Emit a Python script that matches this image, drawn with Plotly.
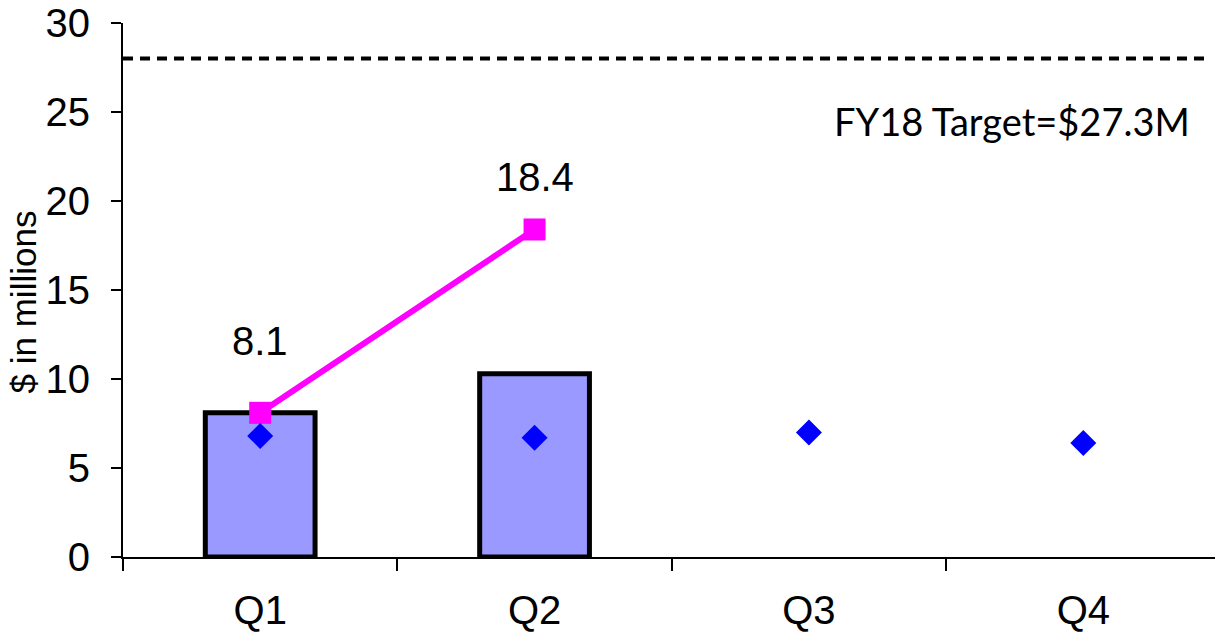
import plotly.graph_objects as go

# Quarterly figures, $ in millions
quarters = ["Q1", "Q2", "Q3", "Q4"]
quarterly_actual = [8.1, 10.3, None, None]
cumulative_actual = [8.1, 18.4, None, None]
quarterly_plan = [6.8, 6.7, 7.0, 6.4]
target_level = 28
target_label = "FY18 Target=$27.3M"

# label offsets (px) for the cumulative value labels
label_shift = [72, 52]

TICK_FONT = dict(family="Liberation Sans Narrow, Arial Narrow, Liberation Sans, Arial", size=40, color="black")

fig = go.Figure()

fig.add_trace(go.Bar(
    x=quarters, y=quarterly_actual, width=0.4,
    marker=dict(color="#9999FF", line=dict(color="black", width=5)),
    showlegend=False, hoverinfo="skip",
))

fig.add_trace(go.Scatter(
    x=quarters, y=cumulative_actual, mode="lines+markers",
    line=dict(color="#FF00FF", width=6),
    marker=dict(symbol="square", size=22, color="#FF00FF"),
    showlegend=False, hoverinfo="skip",
))

fig.add_trace(go.Scatter(
    x=quarters, y=quarterly_plan, mode="markers",
    marker=dict(symbol="diamond", size=20, color="#0000FF"),
    showlegend=False, hoverinfo="skip",
))

# value labels above the cumulative points
for q, v, s in zip(quarters, cumulative_actual, label_shift):
    fig.add_annotation(x=q, y=v, text=f"{v}", showarrow=False,
                       yshift=s, font=TICK_FONT, xanchor="center", yanchor="middle")

# target reference line and its caption
fig.add_shape(type="line", xref="x", yref="y", x0=-0.5, x1=3.45,
              y0=target_level, y1=target_level,
              line=dict(color="black", width=4, dash="10px,7px"))
fig.add_annotation(xref="x", yref="y", x=2.74, y=24.5, text=target_label,
                   showarrow=False, xanchor="center", yanchor="middle",
                   font=dict(family="Lato, Carlito, Calibri, sans-serif", size=38, color="black"))

# y-axis title
fig.add_annotation(xref="paper", yref="y", x=0, xshift=-100, y=14.3,
                   text="$ in millions", textangle=-90, showarrow=False,
                   xanchor="center", yanchor="middle",
                   font=dict(family="Liberation Sans, Arial", size=35, color="black"))

fig.update_layout(
    width=1215, height=633,
    margin=dict(l=123, r=0, t=23, b=76),
    paper_bgcolor="white", plot_bgcolor="white",
    bargap=0.6,
)

fig.update_xaxes(
    type="category", range=[-0.5, 3.48],
    showline=True, linecolor="black", linewidth=2,
    ticks="outside", tickson="boundaries", ticklen=12, tickwidth=2, tickcolor="black",
    tickfont=TICK_FONT, ticklabelstandoff=17,
    showgrid=False, zeroline=False, fixedrange=True,
)
fig.update_yaxes(
    range=[0, 30], tickvals=[0, 5, 10, 15, 20, 25, 30],
    showline=True, linecolor="black", linewidth=2,
    ticks="outside", ticklen=10, tickwidth=2, tickcolor="black",
    tickfont=TICK_FONT, ticklabelstandoff=13,
    showgrid=False, zeroline=False, fixedrange=True,
)

fig.write_html("out.html")
